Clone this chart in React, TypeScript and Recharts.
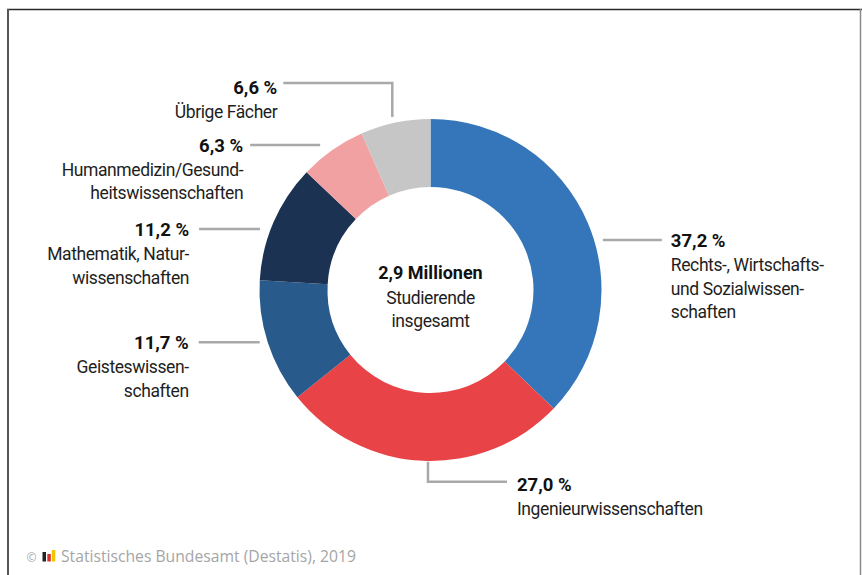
import { PieChart, Pie, Cell } from 'recharts';

const categories = [
  'Rechts-, Wirtschafts- und Sozialwissenschaften',
  'Ingenieurwissenschaften',
  'Geisteswissenschaften',
  'Mathematik, Naturwissenschaften',
  'Humanmedizin/Gesundheitswissenschaften',
  'Übrige Fächer',
];
const shares = [37.2, 27.0, 11.7, 11.2, 6.3, 6.6];
const shareLabels = ['37,2 %', '27,0 %', '11,7 %', '11,2 %', '6,3 %', '6,6 %'];
const labelLines = [
  ['Rechts-, Wirtschafts-', 'und Sozialwissen-', 'schaften'],
  ['Ingenieurwissenschaften'],
  ['Geisteswissen-', 'schaften'],
  ['Mathematik, Natur-', 'wissenschaften'],
  ['Humanmedizin/Gesund-', 'heitswissenschaften'],
  ['Übrige Fächer'],
];
const centerLines = ['2,9 Millionen', 'Studierende', 'insgesamt'];
const source = 'Statistisches Bundesamt (Destatis), 2019';

const colors = ['#3476b9', '#e84447', '#295a8c', '#1b3252', '#f2a1a3', '#c6c6c6'];

const data = categories.map((name, i) => ({ name, value: shares[i] }));

const FONT = 'Roboto, "Liberation Sans", sans-serif';
const RAD = Math.PI / 180;
const CX = 430.5;
const CY = 290;

// leader line layout per slice: offset from the slice's outer mid point,
// vertical elbow, horizontal run, gap to text, baseline offset
const layout = [
  { ox: 15, oy: 17, v: 0, h: 59, gap: 9, base: 7 },
  { ox: 5, oy: 1, v: 20, h: 79, gap: 10, base: 9 },
  { ox: -8, oy: 0, v: 0, h: -61, gap: 10, base: 7 },
  { ox: -13.5, oy: 7, v: 0, h: -61, gap: 10, base: 7 },
  { ox: -12, oy: -5, v: 0, h: -70, gap: 7, base: 6.5 },
  { ox: -3, oy: -5.6, v: -34, h: -109, gap: 6, base: 11 },
];

const renderLabel = (props: any) => {
  const { cx, cy, midAngle, outerRadius, index } = props;
  const px = cx + outerRadius * Math.cos(-midAngle * RAD);
  const py = cy + outerRadius * Math.sin(-midAngle * RAD);
  const l = layout[index];
  const sx = px + l.ox;
  const sy = py + l.oy;
  const ey = sy + l.v;
  const ex = sx + l.h;
  const right = l.h > 0;
  const tx = ex + (right ? l.gap : -l.gap);
  const by = ey + l.base;
  return (
    <g key={`lbl-${index}`}>
      <polyline
        points={`${sx},${sy} ${sx},${ey} ${ex},${ey}`}
        fill="none"
        stroke="#a9a9a9"
        strokeWidth={2.5}
      />
      <text x={tx} y={by} textAnchor={right ? 'start' : 'end'} fontFamily={FONT} fill="#111">
        <tspan x={tx} fontWeight={700} fontSize={18.5}>
          {shareLabels[index]}
        </tspan>
        {labelLines[index].map((t, j) => (
          <tspan
            key={j}
            x={tx}
            dy={j === 0 ? 24 : 23.5}
            fontSize={17.5}
            letterSpacing={-0.4}
            fill="#1e1e1e"
          >
            {t}
          </tspan>
        ))}
      </text>
    </g>
  );
};

export default function App() {
  return (
    <div style={{ position: 'absolute', left: 0, top: 0, width: 862, height: 575, background: '#fff' }}>
      <PieChart width={862} height={575} margin={{ top: 0, right: 0, bottom: 0, left: 0 }}>
        <Pie
          data={data}
          dataKey="value"
          nameKey="name"
          cx={CX}
          cy={CY}
          innerRadius={103}
          outerRadius={171}
          startAngle={90}
          endAngle={-270}
          stroke="none"
          label={renderLabel}
          labelLine={false}
          isAnimationActive={false}
        >
          {data.map((d, i) => (
            <Cell key={d.name} fill={colors[i]} />
          ))}
        </Pie>
      </PieChart>
      <svg
        width={862}
        height={575}
        style={{ position: 'absolute', left: 0, top: 0, pointerEvents: 'none' }}
      >
        <text textAnchor="middle" fontFamily={FONT} fill="#111">
          <tspan x={CX} y={CY - 11} fontWeight={700} fontSize={18}>
            {centerLines[0]}
          </tspan>
          <tspan x={CX} y={CY + 14} fontSize={17.5} letterSpacing={-0.4} fill="#1e1e1e">
            {centerLines[1]}
          </tspan>
          <tspan x={CX} y={CY + 37} fontSize={17.5} letterSpacing={-0.4} fill="#1e1e1e">
            {centerLines[2]}
          </tspan>
        </text>
        <line x1={7} y1={9.5} x2={862} y2={9.5} stroke="#2a2a2a" strokeWidth={1.5} />
        <line x1={8} y1={9} x2={8} y2={575} stroke="#555" strokeWidth={2} />
        <line x1={860.5} y1={9} x2={860.5} y2={575} stroke="#8a8a8a" strokeWidth={1.5} />
        <text x={26.5} y={562} fontFamily='"Open Sans", sans-serif' fontSize={12} fill="#aaa">
          ©
        </text>
        <rect x={42.5} y={552} width={3.5} height={9.5} fill="#222" />
        <rect x={47.3} y={554} width={3.5} height={7.5} fill="#d9312b" />
        <rect x={51.8} y={550} width={3.5} height={11.5} fill="#f3c400" />
        <text x={61} y={562} fontFamily='"Open Sans", sans-serif' fontSize={15.7} fill="#a5a5a5">
          {source}
        </text>
      </svg>
    </div>
  );
}
